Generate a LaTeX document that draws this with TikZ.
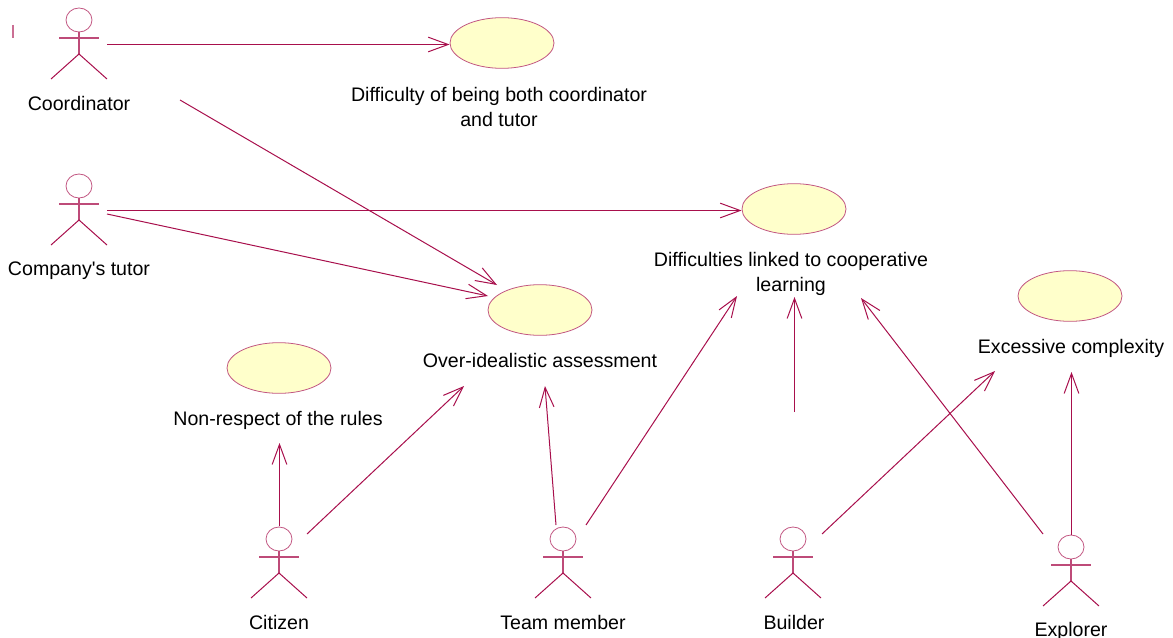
\documentclass[tikz,border=0pt]{standalone}
\usepackage{fontspec}
\setmainfont{Liberation Sans}
\usepackage{tikz}
\usetikzlibrary{arrows.meta,shapes.geometric}
\definecolor{umlline}{HTML}{A80F4C}
\definecolor{umlfill}{HTML}{FFFFCB}
\tikzset{
    usecase/.style={ellipse, draw=umlline!70, fill=umlfill, line width=0.6pt, inner sep=0pt, minimum width=78pt, minimum height=38pt},
    lbl/.style={font=\fontsize{14.7pt}{18.75pt}\selectfont, text=black, inner sep=0pt, align=center},
    assoc/.style={draw=umlline, line width=0.75pt, -{Straight Barb[length=15pt,width=11pt]}},
    pics/actor/.style={code={
        \draw[umlline!70, line width=0.6pt] (0,0) ellipse [x radius=13, y radius=12];
        \draw[umlline!75, line width=0.8pt] (0,12) -- (0,34) (-20,18) -- (20,18);
        \draw[umlline, line width=0.75pt] (-28,59) -- (0,34) -- (28,59);
    }}
}
\begin{document}
\begin{tikzpicture}[x=0.75pt, y=-0.75pt]
                    \useasboundingbox (0,0) rectangle (1173,638);
                    \pic at (79,20) {actor};
                    \pic at (79,186) {actor};
                    \pic at (279,539) {actor};
                    \pic at (563,539) {actor};
                    \pic at (793,539) {actor};
                    \pic at (1071,547) {actor};
                    \draw[umlline!60, line width=0.9pt] (13,25) -- (13,38);

                    \node[usecase] (bothroles) at (502,43) {};
                    \node[usecase] (cooperative) at (794,209) {};
                    \node[usecase] (idealistic) at (540,310) {};
                    \node[usecase] (rules) at (279,368) {};
                    \node[usecase] (complexity) at (1070,296) {};

                    \node[lbl] (coordinator) at (79,103) {Coordinator};
                    \node[lbl] (tutor) at (79,271) {Company\textquotesingle s tutor};
                    \node[lbl] (citizen) at (279,622) {Citizen};
                    \node[lbl] (member) at (563,622) {Team member};
                    \node[lbl] (builder) at (794,622) {Builder};
                    \node[lbl] (explorer) at (1071,631) {Explorer};
                    \node[lbl] (bothtext) at (499,107) {Difficulty of being both coordinator\\and tutor};
                    \node[lbl] (cooptext) at (791,274) {Difficulties linked to cooperative\\learning};
                    \node[lbl] (idealtext) at (540,360) {Over-idealistic assessment};
                    \node[lbl] (rulestext) at (278,420) {Non-respect of the rules};
                    \node[lbl] (complextext) at (1071,348) {Excessive complexity};

                    \coordinate (c1) at (107,44.5);
                    \coordinate (c2) at (180,100);
                    \coordinate (t1) at (107,210.5);
                    \coordinate (t2) at (107,214);
                    \coordinate (z1) at (279.5,526);
                    \coordinate (z2) at (307,534);
                    \coordinate (m1) at (556,525);
                    \coordinate (m2) at (586,525);
                    \coordinate (b1) at (794.5,412);
                    \coordinate (b2) at (822,534);
                    \coordinate (e1) at (1071.5,535);
                    \coordinate (e2) at (1043,534);
                    \coordinate (rulesin) at (279.5,443);
                    \coordinate (idealin1) at (497,285);
                    \coordinate (idealin2) at (488,296);
                    \coordinate (idealin3) at (464,386);
                    \coordinate (idealin4) at (545,386);
                    \coordinate (coopin1) at (737,296);
                    \coordinate (coopin2) at (794.5,297);
                    \coordinate (coopin3) at (861,298);
                    \coordinate (complexin1) at (995,371);
                    \coordinate (complexin2) at (1071.5,372);

                    \draw[assoc] (c1) -- (bothroles.west |- c1);
                    \draw[assoc] (c2) -- (idealin1);
                    \draw[assoc] (t1) -- (cooperative.west |- t1);
                    \draw[assoc] (t2) -- (idealin2);
                    \draw[assoc] (z1) -- (rulesin);
                    \draw[assoc] (z2) -- (idealin3);
                    \draw[assoc] (m1) -- (idealin4);
                    \draw[assoc] (m2) -- (coopin1);
                    \draw[assoc] (b1) -- (coopin2);
                    \draw[assoc] (b2) -- (complexin1);
                    \draw[assoc] (e1) -- (complexin2);
                    \draw[assoc] (e2) -- (coopin3);
\end{tikzpicture}
\end{document}
